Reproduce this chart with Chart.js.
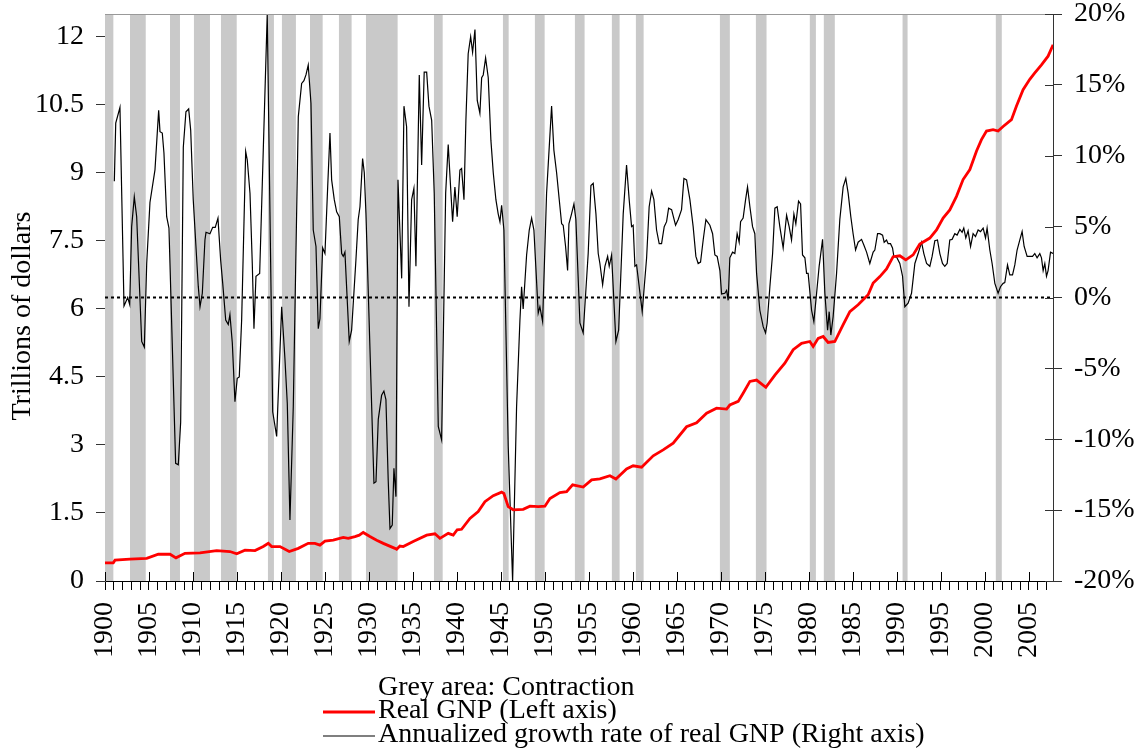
<!DOCTYPE html>
<html>
<head>
<meta charset="utf-8">
<script src="https://cdn.jsdelivr.net/npm/chart.js@4/dist/chart.umd.min.js"></script>
<style>
html,body{margin:0;padding:0;background:#fff;}
canvas{display:block;}
</style>
</head>
<body>
<canvas id="c" width="1141" height="748"></canvas>
<script>
// ---------- data ----------
const gnpYears = [1900.00,1900.94,1901.14,1902.84,1904.74,1906.06,1907.39,1908.07,1909.09,1910.80,1912.69,1914.20,1914.97,1915.91,1917.05,1917.99,1918.56,1918.94,1919.89,1920.94,1921.97,1923.10,1923.86,1924.43,1925.00,1925.94,1927.08,1927.65,1928.41,1928.90,1929.35,1930.11,1930.88,1931.63,1932.95,1933.15,1933.52,1933.90,1935.03,1936.56,1937.50,1938.07,1939.01,1939.58,1940.03,1940.53,1941.48,1942.42,1943.18,1944.13,1945.08,1945.34,1945.83,1946.40,1947.53,1948.30,1949.24,1950.00,1950.57,1951.70,1952.47,1953.15,1954.35,1955.31,1956.25,1957.39,1958.07,1959.28,1960.03,1960.99,1962.31,1963.44,1964.58,1966.10,1967.24,1968.38,1969.51,1970.65,1971.02,1971.97,1972.53,1973.30,1974.06,1975.11,1976.14,1977.27,1978.22,1979.17,1980.11,1980.49,1981.06,1981.63,1982.19,1982.95,1983.90,1984.66,1985.60,1986.74,1987.31,1988.07,1988.83,1989.58,1990.34,1991.02,1991.85,1992.61,1993.75,1994.51,1995.26,1996.02,1996.78,1997.53,1998.30,1999.06,1999.62,2000.19,2000.94,2001.51,2002.08,2003.03,2003.60,2004.35,2005.11,2005.68,2006.44,2007.19,2007.76];
const gnpValues = [0.40,0.40,0.46,0.48,0.50,0.59,0.59,0.51,0.61,0.62,0.67,0.65,0.60,0.68,0.67,0.76,0.83,0.76,0.76,0.65,0.72,0.83,0.83,0.79,0.88,0.90,0.96,0.94,0.98,1.01,1.07,0.98,0.90,0.83,0.72,0.70,0.77,0.76,0.87,1.01,1.04,0.94,1.05,1.01,1.13,1.14,1.38,1.53,1.75,1.88,1.96,1.93,1.64,1.57,1.58,1.65,1.64,1.65,1.82,1.95,1.97,2.12,2.07,2.23,2.25,2.32,2.25,2.47,2.54,2.51,2.76,2.89,3.04,3.40,3.49,3.70,3.81,3.79,3.88,3.96,4.14,4.40,4.43,4.27,4.54,4.80,5.10,5.24,5.28,5.17,5.35,5.39,5.26,5.28,5.65,5.94,6.09,6.31,6.57,6.71,6.88,7.15,7.17,7.08,7.19,7.43,7.56,7.74,8.00,8.18,8.48,8.85,9.07,9.48,9.73,9.92,9.95,9.92,10.02,10.17,10.47,10.83,11.06,11.20,11.38,11.57,11.82];

const growthYears = [1901.06,1901.22,1901.70,1902.16,1902.58,1902.81,1903.03,1903.33,1903.60,1904.17,1904.47,1904.74,1905.11,1905.68,1906.10,1906.25,1906.51,1906.70,1907.01,1907.27,1908.03,1908.33,1908.60,1908.90,1909.20,1909.51,1909.74,1910.03,1910.60,1910.80,1911.06,1911.36,1911.48,1911.93,1912.24,1912.53,1912.84,1913.15,1913.38,1913.72,1914.01,1914.20,1914.47,1914.77,1915.03,1915.26,1915.53,1915.99,1916.17,1916.48,1916.74,1916.93,1917.16,1917.58,1917.99,1918.44,1919.06,1919.51,1920.08,1920.45,1920.72,1921.02,1921.40,1921.97,1922.35,1922.61,1922.84,1923.10,1923.41,1923.67,1923.98,1924.24,1924.43,1924.74,1925.00,1925.31,1925.57,1925.76,1926.06,1926.33,1926.63,1926.90,1927.08,1927.27,1927.76,1928.03,1928.52,1928.78,1928.98,1929.28,1929.47,1929.66,1930.57,1930.80,1931.06,1931.44,1931.70,1931.93,1932.19,1932.39,1932.65,1932.84,1933.07,1933.30,1933.72,1933.98,1934.28,1934.55,1934.85,1935.11,1935.34,1935.72,1935.99,1936.28,1936.56,1936.82,1937.13,1937.42,1937.88,1938.26,1938.72,1939.01,1939.28,1939.51,1939.77,1940.03,1940.34,1940.53,1940.80,1941.02,1941.28,1941.56,1941.78,1942.05,1942.31,1942.61,1942.81,1942.99,1943.26,1943.56,1943.86,1944.13,1944.43,1944.69,1944.89,1945.08,1945.34,1945.83,1946.33,1946.78,1947.16,1947.35,1947.53,1947.92,1948.22,1948.49,1948.75,1949.24,1949.43,1949.74,1950.19,1950.76,1951.02,1951.33,1951.63,1951.90,1952.08,1952.35,1952.58,1952.73,1953.03,1953.30,1953.52,1953.98,1954.35,1954.92,1955.23,1955.49,1955.80,1956.06,1956.25,1956.56,1956.82,1957.13,1957.31,1957.58,1958.07,1958.38,1958.90,1959.28,1959.58,1959.85,1960.03,1960.23,1960.42,1961.06,1961.56,1961.85,1962.13,1962.39,1962.69,1962.99,1963.26,1963.56,1963.83,1964.06,1964.40,1964.85,1965.15,1965.53,1965.80,1966.10,1966.48,1966.85,1967.16,1967.42,1967.69,1967.99,1968.30,1968.75,1969.06,1969.32,1969.58,1969.89,1970.08,1970.45,1970.65,1970.83,1971.02,1971.33,1971.59,1971.85,1972.08,1972.24,1972.53,1972.81,1973.03,1973.30,1973.60,1973.86,1974.06,1974.43,1974.81,1975.08,1975.26,1975.57,1975.88,1976.14,1976.40,1976.70,1977.08,1977.47,1977.76,1978.03,1978.30,1978.52,1978.83,1979.06,1979.28,1979.55,1979.74,1979.92,1980.31,1980.57,1980.88,1981.17,1981.56,1981.82,1982.13,1982.31,1982.50,1982.76,1983.15,1983.52,1983.90,1984.20,1984.47,1984.77,1985.03,1985.31,1985.60,1985.99,1986.25,1986.56,1986.93,1987.31,1987.50,1987.81,1988.07,1988.38,1988.56,1988.83,1989.01,1989.28,1989.51,1989.66,1989.97,1990.34,1990.65,1990.91,1991.28,1991.67,1992.05,1992.42,1992.81,1993.07,1993.38,1993.75,1994.01,1994.32,1994.62,1994.89,1995.19,1995.45,1995.72,1996.02,1996.28,1996.59,1996.85,1997.16,1997.42,1997.61,1997.84,1998.10,1998.38,1998.67,1998.94,1999.24,1999.51,1999.81,2000.08,2000.26,2000.57,2000.83,2001.14,2001.51,2001.78,2002.08,2002.27,2002.58,2002.84,2003.15,2003.41,2003.67,2003.98,2004.24,2004.47,2004.81,2005.11,2005.42,2005.68,2005.94,2006.25,2006.44,2006.63,2006.82,2007.01,2007.19,2007.47,2007.76];
const growthValues = [8.2,12.3,13.4,-0.6,0.0,-0.5,5.0,7.1,5.7,-3.1,-3.5,2.4,6.7,9.0,13.2,11.7,11.6,10.2,5.7,4.9,-11.7,-11.8,-8.8,10.6,13.1,13.3,11.8,6.9,0.8,-0.65,0.3,4.06,4.6,4.5,4.95,4.95,5.6,2.6,1.0,-1.6,-1.9,-1.2,-3.2,-7.35,-5.7,-5.6,-1.6,10.3,9.7,7.35,2.4,-2.2,1.5,1.7,10.4,20.0,-8.06,-9.8,-0.65,-4.3,-7.5,-15.7,-7.7,12.75,15.1,15.3,15.7,16.4,13.7,4.76,3.6,-2.2,-1.5,3.5,3.1,7.8,11.6,8.3,6.9,6.05,5.7,3.1,2.9,3.2,-3.1,-2.3,2.65,5.5,6.4,9.8,8.8,5.9,-13.1,-13.0,-8.6,-6.9,-6.6,-7.2,-12.9,-16.3,-16.05,-12.05,-14.05,8.3,1.35,13.5,12.05,-0.65,6.9,7.7,2.2,15.7,9.35,15.9,15.9,13.5,12.5,7.35,-9.1,-10.05,7.35,10.8,7.8,5.35,7.8,5.7,9.0,9.1,6.9,12.5,17.2,18.4,17.3,18.9,13.9,13.0,15.5,15.7,16.9,15.5,11.1,8.8,6.9,5.9,5.35,6.5,4.76,-10.5,-20.0,-7.7,-1.6,0.76,-0.8,3.0,4.76,5.6,4.76,-1.1,-0.65,-1.7,7.35,13.5,10.4,8.8,6.9,5.2,5.1,3.6,1.9,5.2,5.9,6.6,5.5,-1.8,-2.5,3.1,7.9,8.05,5.9,3.1,2.4,0.9,2.2,2.9,2.2,3.0,-3.1,-2.3,5.9,9.35,6.9,5.0,5.1,2.2,2.3,-1.0,2.8,6.4,7.5,6.9,4.76,3.8,3.8,5.0,5.35,6.3,6.2,5.1,5.5,6.2,8.4,8.3,6.9,5.0,2.9,2.4,2.5,4.06,5.5,5.1,4.5,3.0,2.9,1.9,0.25,0.3,0.5,-0.2,2.8,3.2,3.1,4.5,3.9,5.35,5.6,6.9,7.8,6.4,5.0,4.5,1.7,-0.9,-2.06,-2.5,-1.8,0.76,3.1,6.3,6.4,5.0,3.5,5.8,5.0,4.06,5.9,5.2,6.8,6.6,3.0,2.8,1.7,1.7,-0.9,-1.7,0.3,2.2,4.1,0.3,-2.3,-1.0,-2.65,-1.35,1.7,5.5,7.8,8.4,7.35,5.7,4.5,3.35,3.9,4.1,3.7,3.2,2.4,3.2,3.35,4.5,4.5,4.4,3.9,4.06,3.8,3.8,3.5,2.9,2.85,2.4,1.5,-0.65,-0.4,0.3,2.4,3.1,3.9,3.1,2.4,2.2,2.9,4.0,4.06,3.1,2.4,2.2,2.4,4.06,4.1,4.5,4.4,4.8,4.6,4.9,4.2,4.7,3.6,4.5,4.3,4.76,4.65,4.9,4.2,4.9,3.35,2.4,1.0,0.3,0.76,1.0,1.05,2.3,1.6,1.6,2.3,3.35,4.06,4.65,3.6,2.9,2.9,2.9,3.1,2.8,3.1,2.8,1.9,2.4,1.5,1.9,3.2,3.1];

const zeroLineYears = [1900, 2007.75];
const zeroLineValues = [0, 0];

const contractionStart = [1900.00,1902.84,1907.39,1910.11,1913.18,1918.52,1920.11,1923.30,1926.59,1929.66,1937.39,1945.23,1948.86,1953.41,1957.61,1960.34,1969.89,1973.98,1980.11,1981.70,1990.65,2001.25];
const contractionEnd   = [1900.95,1904.63,1908.52,1911.93,1914.97,1919.20,1921.70,1924.74,1928.03,1933.26,1938.38,1945.88,1949.97,1954.51,1958.49,1961.22,1971.02,1975.19,1980.80,1982.95,1991.22,2001.93];

const legendTexts = ['Grey area: Contraction', 'Real GNP (Left axis)', 'Annualized growth rate of real GNP (Right axis)'];
const yTitle = 'Trillions of dollars';

// ---------- chart ----------
const FONT = "'Liberation Serif','Times New Roman',Times,serif";
Chart.defaults.font.family = FONT;
Chart.defaults.color = '#000';

const toPts = (xs, ys) => xs.map((x, i) => ({x: x, y: ys[i]}));

const bandsPlugin = {
  id: 'bands',
  beforeDatasetsDraw(chart) {
    const {ctx, chartArea, scales} = chart;
    ctx.save();
    ctx.fillStyle = '#c9c9c9';
    for (let i = 0; i < contractionStart.length; i++) {
      const x1 = scales.x.getPixelForValue(contractionStart[i]);
      const x2 = scales.x.getPixelForValue(contractionEnd[i]);
      ctx.fillRect(x1, chartArea.top, x2 - x1, chartArea.bottom - chartArea.top);
    }
    ctx.restore();
  }
};

const decorPlugin = {
  id: 'decor',
  afterDraw(chart) {
    const {ctx, chartArea, scales} = chart;
    ctx.save();
    // top frame line
    ctx.strokeStyle = '#999';
    ctx.lineWidth = 1;
    ctx.beginPath();
    ctx.moveTo(chartArea.left, chartArea.top + 0.5);
    ctx.lineTo(chartArea.right, chartArea.top + 0.5);
    ctx.stroke();
    // inward part of major x ticks
    ctx.strokeStyle = '#000';
    ctx.beginPath();
    for (let yr = 1900; yr <= 2005; yr += 5) {
      const x = Math.round(scales.x.getPixelForValue(yr)) + 0.5;
      ctx.moveTo(x, chartArea.bottom);
      ctx.lineTo(x, chartArea.bottom - 9);
    }
    ctx.stroke();
    // inward part of major right-axis ticks
    ctx.strokeStyle = '#333';
    ctx.beginPath();
    for (let v = -20; v <= 20; v += 5) {
      const y = Math.round(scales.y2.getPixelForValue(v)) + 0.5;
      ctx.moveTo(chartArea.right, y);
      ctx.lineTo(chartArea.right - 8, y);
    }
    ctx.stroke();
    // y title
    ctx.fillStyle = '#000';
    ctx.font = '28px ' + FONT;
    ctx.textAlign = 'center';
    ctx.textBaseline = 'middle';
    ctx.save();
    ctx.translate(23, 316);
    ctx.rotate(-Math.PI / 2);
    ctx.fillText(yTitle, 0, 0);
    ctx.restore();
    // legend
    const lx = 378;
    const ly = [688, 711, 735];
    ctx.textAlign = 'left';
    for (let i = 0; i < legendTexts.length; i++) {
      ctx.fillText(legendTexts[i], lx, ly[i]);
    }
    ctx.lineWidth = 2.8;
    ctx.strokeStyle = '#ff0000';
    ctx.beginPath();
    ctx.moveTo(323, ly[1] + 1);
    ctx.lineTo(375, ly[1] + 1);
    ctx.stroke();
    ctx.lineWidth = 1.2;
    ctx.strokeStyle = '#000';
    ctx.beginPath();
    ctx.moveTo(323, ly[2] + 1);
    ctx.lineTo(375, ly[2] + 1);
    ctx.stroke();
    ctx.restore();
  }
};

const zeroPad = (s) => { s.paddingTop = 0; s.paddingBottom = 0; s.paddingLeft = 0; s.paddingRight = 0; };

new Chart(document.getElementById('c').getContext('2d'), {
  type: 'line',
  data: {
    datasets: [
      { label: 'Real GNP (Left axis)', data: toPts(gnpYears, gnpValues), yAxisID: 'y',
        borderColor: '#ff0000', borderWidth: 2.8, pointRadius: 0, tension: 0, fill: false },
      { label: 'Annualized growth rate of real GNP (Right axis)', data: toPts(growthYears, growthValues), yAxisID: 'y2',
        borderColor: '#000000', borderWidth: 1.2, pointRadius: 0, tension: 0, fill: false },
      { label: 'Zero growth', data: toPts(zeroLineYears, zeroLineValues), yAxisID: 'y2',
        borderColor: '#000000', borderWidth: 2, borderDash: [3, 3], pointRadius: 0, fill: false }
    ]
  },
  options: {
    responsive: false,
    animation: false,
    events: [],
    layout: { padding: { top: 14, left: 0, right: 0, bottom: 0 } },
    plugins: { legend: { display: false }, tooltip: { enabled: false }, title: { display: false } },
    scales: {
      x: {
        type: 'linear', position: 'bottom', min: 1900, max: 2007.75,
        afterFit(s) { s.height = 167; zeroPad(s); },
        ticks: {
          stepSize: 1, autoSkip: false, includeBounds: false,
          maxRotation: 90, minRotation: 90, padding: 12,
          font: { size: 28 },
          callback(v) { const y = Math.round(v); return y % 5 === 0 ? String(y) : ''; }
        },
        grid: { drawOnChartArea: false, drawTicks: true, tickLength: 9, tickColor: '#000' },
        border: { display: true, color: '#000', width: 1 }
      },
      y: {
        type: 'linear', position: 'left', min: 0, max: 12.5,
        afterFit(s) { s.width = 105; zeroPad(s); },
        ticks: {
          stepSize: 0.75, includeBounds: false, padding: 12,
          font: { size: 28 },
          callback(v) { const k = Math.round(v / 0.75); return k % 2 === 0 ? String(+(k * 0.75).toFixed(2)) : ''; }
        },
        grid: { drawOnChartArea: false, drawTicks: true, tickLength: 9, tickColor: '#333' },
        border: { display: true, color: '#555', width: 1 }
      },
      y2: {
        type: 'linear', position: 'right', min: -20, max: 20,
        afterFit(s) { s.width = 88; zeroPad(s); },
        ticks: {
          stepSize: 2.5, includeBounds: false, padding: 12,
          font: { size: 28 },
          callback(v) { const k = Math.round(v / 2.5); return k % 2 === 0 ? String(k * 2.5) + '%' : ''; }
        },
        grid: { drawOnChartArea: false, drawTicks: true, tickLength: 9, tickColor: '#333' },
        border: { display: true, color: '#333', width: 1 }
      }
    }
  },
  plugins: [bandsPlugin, decorPlugin]
});
</script>
</body>
</html>
